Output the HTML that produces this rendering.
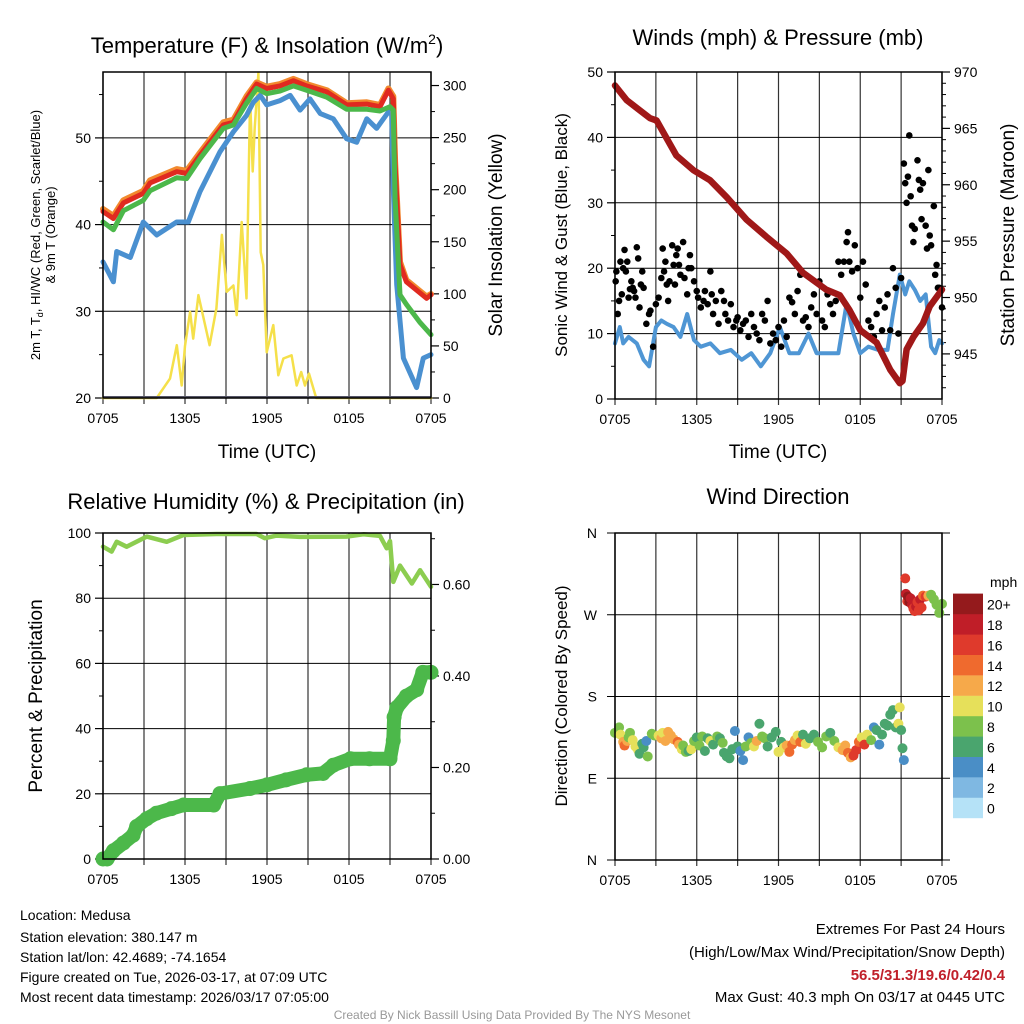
<!DOCTYPE html>
<html><head><meta charset="utf-8"><style>
body{margin:0;background:#fff;}
svg{display:block;font-family:"Liberation Sans",sans-serif;}
</style></head><body>
<svg id="s" width="1024" height="1024" viewBox="0 0 1024 1024">
<g font-size="22" text-anchor="middle">
<text x="267" y="53">Temperature (F) &amp; Insolation (W/m<tspan font-size="14" dy="-9">2</tspan><tspan dy="9">)</tspan></text>
<text x="778" y="45">Winds (mph) &amp; Pressure (mb)</text>
<text x="266" y="509">Relative Humidity (%) &amp; Precipitation (in)</text>
<text x="778" y="504">Wind Direction</text>
</g>
<g font-size="19" text-anchor="middle">
<text x="267" y="458">Time (UTC)</text>
<text x="778" y="458">Time (UTC)</text>
<text transform="translate(40,235) rotate(-90)" font-size="13"><tspan x="0" dy="0">2m T, T<tspan font-size="9" dy="3">d</tspan><tspan dy="-3">, HI/WC (Red, Green, Scarlet/Blue)</tspan></tspan><tspan x="0" dy="15">&amp; 9m T (Orange)</tspan></text>
<text transform="translate(502,235) rotate(-90)">Solar Insolation (Yellow)</text>
<text transform="translate(567,235) rotate(-90)" font-size="17">Sonic Wind &amp; Gust (Blue, Black)</text>
<text transform="translate(1014,235) rotate(-90)">Station Pressure (Maroon)</text>
<text transform="translate(42,696) rotate(-90)">Percent &amp; Precipitation</text>
<text transform="translate(567,696) rotate(-90)" font-size="17">Direction (Colored By Speed)</text>
</g>
<g id="layer"></g>
<g font-size="14">
<text x="20" y="920">Location: Medusa</text>
<text x="20" y="942">Station elevation: 380.147 m</text>
<text x="20" y="962">Station lat/lon: 42.4689; -74.1654</text>
<text x="20" y="982">Figure created on Tue, 2026-03-17, at 07:09 UTC</text>
<text x="20" y="1002">Most recent data timestamp: 2026/03/17 07:05:00</text>
</g>
<g font-size="15" text-anchor="end">
<text x="1005" y="934">Extremes For Past 24 Hours</text>
<text x="1005" y="957">(High/Low/Max Wind/Precipitation/Snow Depth)</text>
<text x="1005" y="980" fill="#c0202a" font-weight="bold">56.5/31.3/19.6/0.42/0.4</text>
<text x="1005" y="1002">Max Gust: 40.3 mph On 03/17 at 0445 UTC</text>
</g>
<text x="512" y="1019" font-size="12" fill="#999" text-anchor="middle">Created By Nick Bassill Using Data Provided By The NYS Mesonet</text>
</svg>
<script>
const tempHours=[0,0.76,1.49,2.95,3.44,5.39,6.12,7.1,8.8,9.54,10.5,11.24,11.98,12.95,13.93,14.9,16.37,17.83,19.3,20.27,20.88,21.24,21.37,21.73,22.2,23.68,24];
const tempRed=[41.5,40.7,42.5,43.6,44.8,46.1,45.9,48,51.5,51.8,54.5,56.2,55.7,56,56.6,56,55.3,53.8,53.9,53.6,55.5,54.5,46.9,35.4,33.4,31.5,31.9];
const temp9m=[41.8,41,42.8,43.9,45.1,46.4,46.2,48.3,51.8,52.1,54.8,56.4,55.9,56.2,56.8,56.2,55.5,54,54.1,53.8,55.7,54.8,47.3,35.7,33.6,31.7,32];
const greenHours=[0,0.76,1.49,2.95,3.44,5.39,6.12,7.1,8.8,9.54,10.5,11.24,11.98,12.95,13.93,14.9,16.37,17.83,19.3,20.27,21.0,21.24,21.37,21.73,22.2,23.2,24];
const tempGreen=[40.3,39.4,41.6,42.8,43.9,45.4,45.3,47.6,51.1,51.5,54,55.7,55.1,55.4,56,55.5,54.7,53.3,53.3,53.1,53.6,53.2,43,31.9,30.8,28.7,27.3];
const dewHours=[0,0.76,1.0,2.0,2.95,3.93,5.39,6.24,7.1,8.56,9.54,10.5,11,11.5,11.98,12.95,13.7,14.42,15.15,15.9,16.85,17.83,18.56,19.3,20.02,20.88,21.12,21.24,21.49,21.98,22.95,23.44,24];
const dewBlue=[35.7,33.4,36.9,36.2,40.3,38.8,40.3,40.3,43.8,48.4,50.7,52.6,54.1,54.9,53.8,54.3,54.9,53.2,54.5,52.8,52.2,49.9,49.5,52.2,51.1,53,53.4,44.2,33.1,24.6,21.2,24.6,25];
const solarHours=[0,3.93,4.9,5.4,5.76,6,6.37,6.6,6.98,7.8,8.3,8.7,9.05,9.54,9.78,10.15,10.5,10.76,10.95,11.1,11.37,11.54,11.73,11.98,12.46,12.83,13.2,13.8,14.17,14.5,14.78,15.07,15.6,24];
const solarVals=[0,0,18.6,50.7,12,50,82.8,57,98.8,50.7,86,156.6,102,108,79.6,169,95.6,288,217.5,259,312,140,127.7,44,70,21.8,37.9,41,12,25,12,23.4,0,0];
const presHours=[0,0.86,2.57,3.05,4.5,5.75,6.97,8.2,9.66,11.1,12.6,13.8,15.5,16.5,17.2,18,19.2,20.2,20.9,21.1,21.4,21.9,22.6,23.1,24];
const presVals=[968.8,967.5,965.9,965.7,962.6,961.3,960.4,958.9,956.9,955.4,953.9,952.2,950.7,950.2,948.9,947.1,946,943.6,942.4,942.6,945.4,946.5,947.7,949.2,950.7];
const windHours=[0,0.35,0.6,1,1.6,2.1,2.5,3,3.4,3.8,4.3,4.8,5.3,5.8,6.3,7,7.7,8.5,9.3,10,10.7,11.4,12.1,12.8,13.5,14.2,14.8,15.6,16.4,17,17.5,18,18.6,19.3,20,20.4,20.9,21.3,21.6,22,22.4,22.8,23.2,23.5,23.8,24];
const windVals=[8.5,11,8.5,9.5,8.5,6,5,11,12,11.5,11,9.5,13,9,8,8.5,7,7.5,6,7,5,7,11,7,7,10,7,7,7,14.6,10,7,8,7.5,7.5,13,19,16,18,16.7,15,16,8,7,9,8.5];
const gustHours=[0.05,0.1,0.2,0.3,0.4,0.5,0.6,0.7,0.8,0.9,1.0,1.1,1.2,1.3,1.4,1.5,1.6,1.7,1.8,1.9,2.0,2.1,2.3,2.5,2.6,2.8,3.0,3.2,3.4,3.5,3.6,3.7,3.8,3.9,4.0,4.2,4.3,4.4,4.5,4.6,4.7,4.8,5.0,5.1,5.3,5.4,5.5,5.6,5.8,6.0,6.1,6.3,6.5,6.6,6.8,7.0,7.1,7.2,7.4,7.6,7.8,8.0,8.1,8.3,8.5,8.7,8.9,9.0,9.2,9.4,9.6,9.8,10.0,10.2,10.4,10.6,10.8,11.0,11.2,11.4,11.6,11.8,12.0,12.2,12.4,12.6,12.8,13.0,13.2,13.4,13.6,13.8,14.0,14.2,14.4,14.6,14.8,15.0,15.2,15.4,15.6,15.8,16.0,16.2,16.4,16.6,16.8,17.0,17.1,17.2,17.4,17.6,17.8,18.0,18.2,18.4,18.6,18.8,19.0,19.2,19.4,19.6,19.8,20.0,20.2,20.4,20.6,20.8,21.0,21.2,21.3,21.4,21.5,21.6,21.7,21.8,21.9,22.0,22.2,22.3,22.4,22.5,22.6,22.8,22.9,23.0,23.1,23.2,23.4,23.5,23.6,23.7,23.8,23.9,24];
const gustVals=[18,19.5,13,15,21,16,20,22.8,19.5,21,15.5,16.8,18,17,16.5,15.5,23.2,21.5,14,17.5,19.5,17,11.5,13,13.5,8,14.5,15.5,18.5,23,19.5,21,17.5,15,18,23.5,20.5,17.5,22,23,20.5,19,24,18.5,16,20,22,20,18,16.5,15.5,14,15,16.5,14.5,19.5,16,13,15,11.5,16.5,15,13,12,14.5,11,12,12.5,10.5,11.5,12,9.5,13,11,10,9,13,12,15,8.5,10,9,11,8,12,9.5,15.5,14.8,13,16.5,19,12,12.5,11,14,16,13,18,12,11,16,14.5,13,15,21,19,21,24,25.5,21,19.5,23.5,20,15.5,21,17.5,12,11,9.5,13,15,10.5,14,16,10.5,20,17,10,18.5,36,33,30,34,40.3,31,26.5,24,26,36.5,33.5,32,27.5,33,26.5,23,35,25,23.5,29.5,19,20.5,17,17,16.5,14];
const rhHours=[0,0.63,1,1.73,3.2,4.66,5.88,8.3,11.24,11.85,12.7,14.4,17.8,19.05,20.27,20.76,21,21.24,21.73,22.6,23.2,24];
const rhVals=[95.8,94.3,97.3,95.8,98.9,97.3,99.4,99.7,99.7,98.4,99.2,98.8,98.9,99.6,99.1,95.3,97.5,85,90,84.5,88.6,83.5];
const precipHours=[0,0.3,0.76,1.5,2.2,2.46,3.2,3.9,5,5.9,8.1,8.56,10.76,12,13.4,14.9,16.1,16.85,18.1,19.5,21,21.24,21.3,21.5,22.2,22.95,23.4,24];
const precipVals=[0,0,0.018,0.035,0.052,0.071,0.088,0.1,0.11,0.118,0.118,0.143,0.154,0.162,0.173,0.184,0.187,0.205,0.219,0.219,0.219,0.259,0.31,0.331,0.356,0.37,0.408,0.408];
const dirHours=[0,0.3,0.4,0.6,0.7,0.9,1.0,1.1,1.3,1.5,1.7,1.8,2.0,2.1,2.3,2.4,2.7,2.9,3.2,3.4,3.5,3.7,3.9,4.1,4.3,4.6,4.7,4.9,5.0,5.2,5.4,5.6,5.8,6.0,6.2,6.4,6.6,6.8,7.0,7.2,7.5,7.7,7.9,8.0,8.2,8.4,8.6,8.8,9.0,9.2,9.4,9.6,9.8,10.0,10.2,10.4,10.6,10.8,11.0,11.2,11.5,11.8,12.0,12.2,12.4,12.6,12.8,13.0,13.2,13.4,13.6,13.8,14.0,14.3,14.6,14.9,15.2,15.5,15.8,16.1,16.4,16.7,16.9,17.1,17.3,17.5,17.7,17.9,18.1,18.3,18.5,18.8,19.0,19.2,19.4,19.6,19.8,20.0,20.2,20.4,20.6,20.8,20.9,21.0,21.1,21.2,21.3,21.35,21.45,21.5,21.6,21.7,21.8,21.9,22.0,22.1,22.2,22.3,22.4,22.5,22.6,22.8,23.0,23.2,23.4,23.6,23.8,24];
const dirVals=[140,146,138,130,126,131,135,140,132,125,121,117,128,124,131,114,139,137,137,134,140,131,141,137,133,130,127,122,126,119,120,122,131,135,126,136,120,134,131,127,136,134,129,118,114,112,122,142,125,120,110,125,135,129,125,131,150,136,134,125,135,141,119,130,124,126,119,127,132,137,130,138,128,134,138,130,124,136,140,131,124,121,126,118,113,115,121,130,135,127,138,132,146,143,127,138,150,148,160,165,146,150,168,143,123,110,310,293,285,290,284,288,281,277,274,279,284,275,287,278,291,290,291,292,287,281,272,282];
const dirSpeeds=[8,8,10,12,15,12,9,8,10,10,10,7,6,7,4,8,8,9,11,12,11,13,13,12,13,15,13,11,8,8,7,10,8,7,8,8,6,7,10,7,8,7,8,6,7,6,7,4,6,4,4,8,5,8,10,12,6,8,8,7,6,6,10,7,10,13,15,14,12,10,15,7,10,7,6,8,8,9,7,9,10,12,13,15,13,16,16,14,10,16,11,8,5,6,5,7,7,6,7,6,7,10,10,7,6,4,17,19,17,20,21,18,18,17,17,18,17,17,18,16,14,16,12,9,9,9,8,8];
const speedBins=["0","2","4","6","8","10","12","14","16","18","20+"];
const speedColors=["#b5e2f7","#7fb8e2","#4a8ec6","#4aa56e","#7cc14c","#e6e05a","#f6a94a","#ef6a2e","#df3a2c","#c01e28","#941a1c"];

const NS="http://www.w3.org/2000/svg";
const layer=document.getElementById('layer');
function mk(tag,attrs,parent){const e=document.createElementNS(NS,tag);for(const k in attrs)e.setAttribute(k,attrs[k]);(parent||layer).appendChild(e);return e;}
function scale(d0,d1,r0,r1){return v=>r0+(v-d0)*(r1-r0)/(d1-d0);}
function path(xs,ys,sx,sy){return xs.map((h,i)=>(i?'L':'M')+sx(h).toFixed(1)+','+sy(ys[i]).toFixed(1)).join('');}
const timeLabels=["0705","1305","1905","0105","0705"];
const gridHours=[0,3,6,9,12,15,18,21,24];

function frame(x0,x1,y0,y1,name){
  const g=mk('g',{});
  
  
  const sx=scale(0,24,x0,x1);
  gridHours.forEach(h=>{const l=mk('line',{x1:sx(h),x2:sx(h),y1:y0,y2:y1+6,stroke:'#333','stroke-width':1.2},g);
    
    });
  timeLabels.forEach((t,i)=>{const e=mk('text',{x:sx(i*6),y:y1+25,'font-size':14,'text-anchor':'middle'},g);e.textContent=t;
    
    });
  return {g,sx};
}
function leftAxis(g,x0,x1,sy,ticks,labels,grid,minor){
  ticks.forEach((v,i)=>{const y=sy(v);
    mk('line',{x1:x0-8,x2:x0,y1:y,y2:y,stroke:'#000','stroke-width':1.2},g);
    if(grid&&grid.includes(v))mk('line',{x1:x0,x2:x1,y1:y,y2:y,stroke:'#000','stroke-width':1},g);
    const t=mk('text',{x:x0-12,y:y+5,'font-size':14,'text-anchor':'end'},g);t.textContent=labels[i];
    
    });
  (minor||[]).forEach(v=>mk('line',{x1:x0-4,x2:x0,y1:sy(v),y2:sy(v),stroke:'#000'},g));
}
function rightAxis(g,x1,sy,ticks,labels,minor){
  ticks.forEach((v,i)=>{const y=sy(v);
    mk('line',{x1:x1,x2:x1+8,y1:y,y2:y,stroke:'#000','stroke-width':1.2},g);
    const t=mk('text',{x:x1+12,y:y+5,'font-size':14},g);t.textContent=labels[i];
    
    });
  (minor||[]).forEach(v=>mk('line',{x1:x1,x2:x1+4,y1:sy(v),y2:sy(v),stroke:'#000'},g));
}
function border(g,x0,x1,y0,y1){mk('rect',{x:x0,y:y0,width:x1-x0,height:y1-y0,fill:'none',stroke:'#000','stroke-width':1.5},g);}
function series(g,d,color,w,name){const p=mk('path',{d:d,fill:'none',stroke:color,'stroke-width':w,'stroke-linejoin':'round','stroke-linecap':'round'},g);
  
  }

// Panel 1
{const X0=103,X1=431,Y0=72,Y1=398;const {g,sx}=frame(X0,X1,Y0,Y1,'temperature-panel');
 const sy=scale(20,57.6,Y1,Y0), sr=scale(0,313,Y1,Y0);
 leftAxis(g,X0,X1,sy,[20,30,40,50],["20","30","40","50"],[30,40,50],[25,35,45,55]);
 rightAxis(g,X1,sr,[0,50,100,150,200,250,300],["0","50","100","150","200","250","300"],[25,75,125,175,225,275]);
 series(g,path(solarHours,solarVals,sx,sr),'#f5e04a',2.5,'solar-line');
 mk('line',{x1:X0,x2:X1,y1:Y1-1,y2:Y1-1,stroke:'#556',"stroke-width":2},g);
 series(g,path(dewHours,dewBlue,sx,sy),'#4a90d0',5,'dewpoint-line');
 series(g,path(tempHours,temp9m,sx,sy),'#f28a2e',6,'temp-9m-line');
 series(g,path(tempHours,tempRed,sx,sy),'#e02a20',5,'temp-2m-line');
 series(g,path(greenHours,tempGreen,sx,sy),'#4cb84a',5,'heat-index-line');
 border(g,X0,X1,Y0,Y1);}
// Panel 2
{const X0=615,X1=942,Y0=72,Y1=399;const {g,sx}=frame(X0,X1,Y0,Y1,'winds-panel');
 const sy=scale(0,50,Y1,Y0), sp=scale(941,970,Y1,Y0);
 leftAxis(g,X0,X1,sy,[0,10,20,30,40,50],["0","10","20","30","40","50"],[10,20,30,40],[5,15,25,35,45]);
 rightAxis(g,X1,sp,[945,950,955,960,965,970],["945","950","955","960","965","970"],[942,943,944,946,947,948,949,951,952,953,954,956,957,958,959,961,962,963,964,966,967,968,969]);
 series(g,path(windHours,windVals,sx,sy),'#4f96d4',4,'sonic-wind-line');
 gustHours.forEach((h,i)=>{const c=mk('circle',{cx:sx(h),cy:sy(gustVals[i]),r:3.3,fill:'#000'},g);
   
   });
 series(g,path(presHours,presVals,sx,sp),'#a01818',6.5,'pressure-line');
 border(g,X0,X1,Y0,Y1);}
// Panel 3
{const X0=103,X1=431,Y0=533,Y1=859;const {g,sx}=frame(X0,X1,Y0,Y1,'humidity-panel');
 const sy=scale(0,100,Y1,Y0), sr=scale(0,0.7125,Y1,Y0);
 leftAxis(g,X0,X1,sy,[0,20,40,60,80,100],["0","20","40","60","80","100"],[20,40,60,80],[10,30,50,70,90]);
 rightAxis(g,X1,sr,[0,0.2,0.4,0.6],["0.00","0.20","0.40","0.60"],[0.1,0.3,0.5,0.7]);
 series(g,path(rhHours,rhVals,sx,sy),'#8ccd50',4.5,'humidity-line');
 series(g,path(precipHours,precipVals,sx,sr),'#4cb84a',14,'precip-line');
 precipHours.forEach((h,i)=>{const c=mk('circle',{cx:sx(h),cy:sr(precipVals[i]),r:7.5,fill:'#4cb84a'},g);
   
   });
 border(g,X0,X1,Y0,Y1);}
// Panel 4
{const X0=615,X1=942,Y0=533,Y1=860;const {g,sx}=frame(X0,X1,Y0,Y1,'direction-panel');
 const sy=scale(0,360,Y1,Y0);
 [0,90,180,270,360].forEach((v,i)=>{const y=sy(v);
   mk('line',{x1:X0-8,x2:X1+8,y1:y,y2:y,stroke:'#000','stroke-width':1},g);
   const t=mk('text',{x:X0-18,y:y+5,'font-size':14,'text-anchor':'end'},g);t.textContent=["N","E","S","W","N"][i];
   
   });
 dirHours.forEach((h,i)=>{const b=Math.min(10,Math.floor(dirSpeeds[i]/2));
   const c=mk('circle',{cx:sx(h),cy:sy(dirVals[i]),r:5,fill:speedColors[b]},g);
   
   });
 border(g,X0,X1,Y0,Y1);
 const cb=mk('g',{});
 
 
 const t=mk('text',{x:990,y:587,'font-size':14},cb);t.textContent='mph';
 speedBins.forEach((lab,i)=>{const y=818-(i+1)*20.4;
   mk('rect',{x:953,y:y,width:30,height:20.6,fill:speedColors[i]},cb);
   const tt=mk('text',{x:987,y:y+16,'font-size':14},cb);tt.textContent=lab;
   
   });
}
</script>
</body></html>
